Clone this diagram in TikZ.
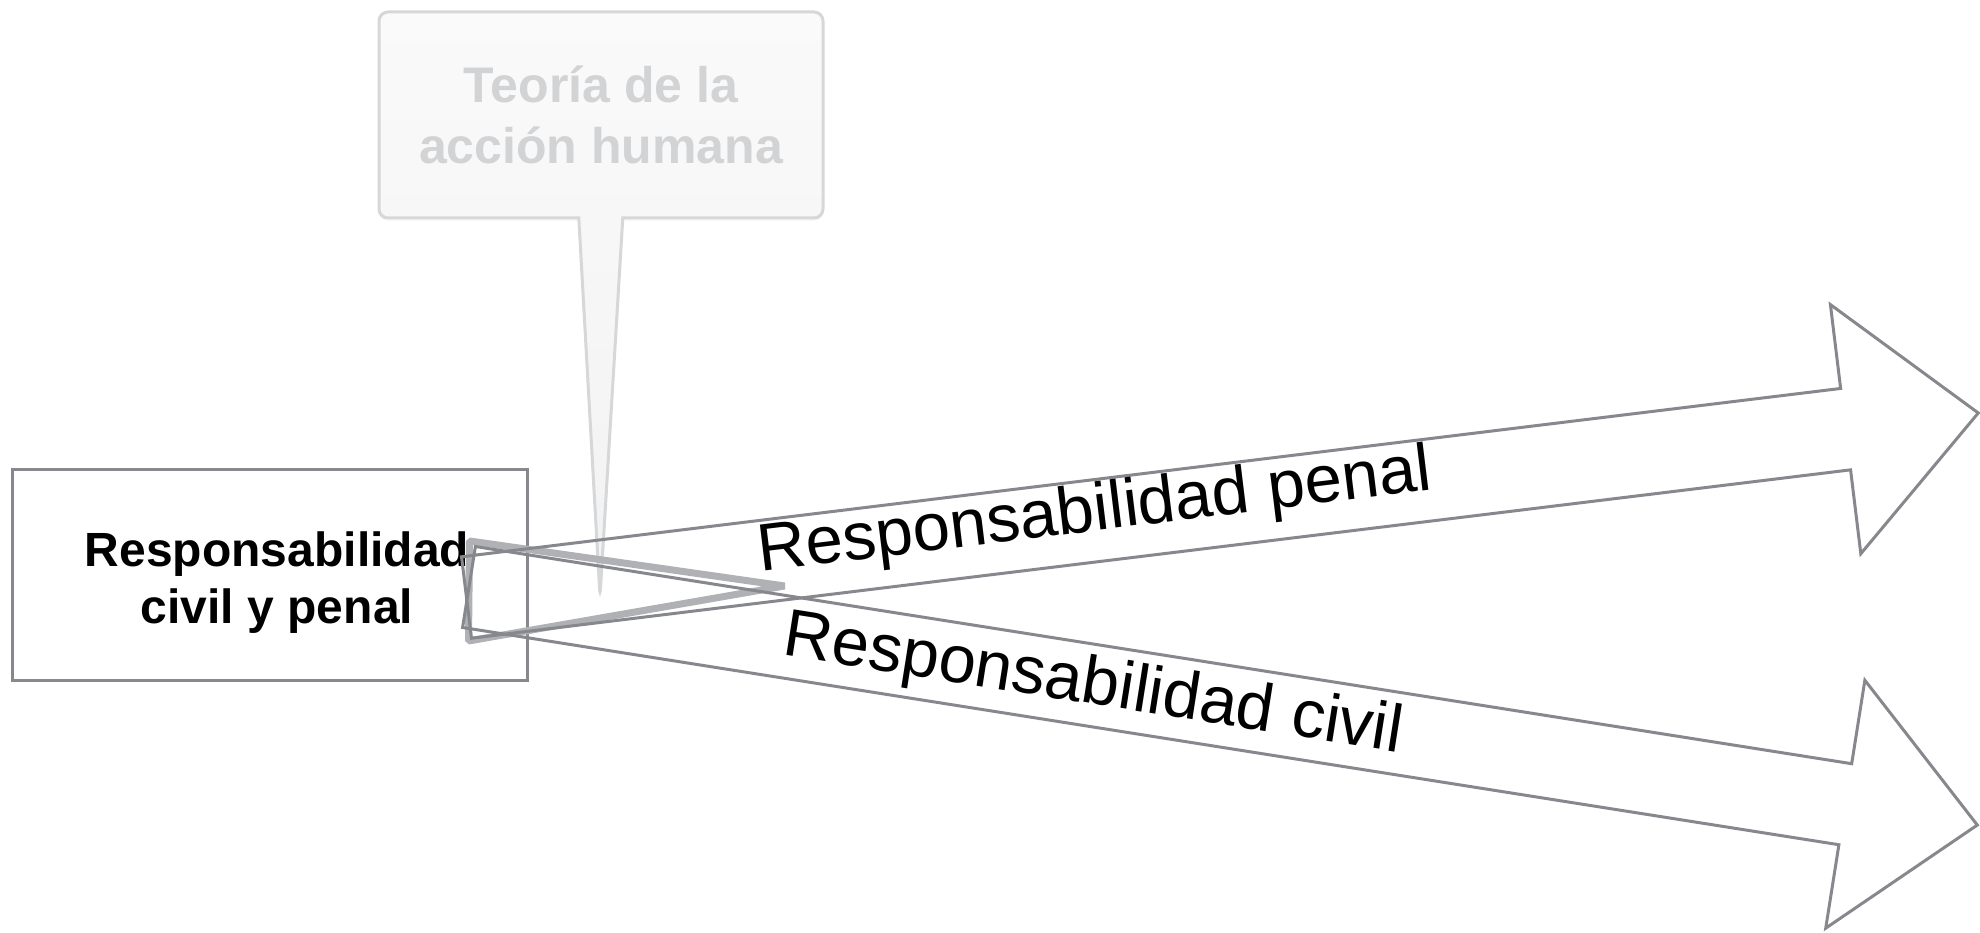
\documentclass[tikz,border=0pt]{standalone}
\usepackage{fontspec}
\setmainfont{Liberation Sans}
\usetikzlibrary{shapes.arrows,shapes.callouts,shadows,calc}

\definecolor{edgegray}{RGB}{135,136,141}
\definecolor{ghostgray}{RGB}{176,177,181}
\definecolor{calloutline}{RGB}{214,215,217}
\definecolor{callouttext}{RGB}{210,211,213}

\begin{document}
\begin{tikzpicture}[
    x=1pt, y=1pt,
    box/.style={draw=edgegray,line width=3,fill=white,minimum width=515,minimum height=211,inner sep=0},
    boxtext/.style={font=\bfseries\fontsize{48}{57}\selectfont,align=center,inner sep=0},
    bigarrow/.style={single arrow,draw=edgegray,line width=3,inner xsep=0,inner ysep=39.5,outer sep=0,single arrow head extend=84.5,single arrow tip angle=86.4,anchor=tail},
    arrowlabel/.style={font=\fontsize{67}{80}\selectfont,inner sep=0},
    ghost/.style={draw=ghostgray,line width=7,line join=bevel},
    teoria/.style={rectangle callout,rounded corners=9,draw=calloutline,line width=3,top color=white!98!black,bottom color=white!95!black,minimum width=444,minimum height=206,callout pointer width=44,text=callouttext,font=\bfseries\fontsize{50}{61.5}\selectfont,align=center,drop shadow={shadow xshift=0,shadow yshift=-3,opacity=0.06}},
]
    \useasboundingbox (0,0) rectangle (1980,933);

    \node [box] (civpen) at (269.5,357.5) {};
    \node [boxtext] (civpentext) at ([xshift=7.5,yshift=-7.5]civpen.center) {Responsabilidad\\civil y penal};

    \coordinate (teoriatip) at (600,336);
    \node [teoria,callout absolute pointer={(teoriatip)}] (teoria) at (601,818) {Teoría de la\\acción humana};

    \draw [ghost] ([xshift=-59,yshift=34.5]civpen.east) -- ++(315,-45) -- ++(-316,-55) -- cycle;

    \path (civpen.east) ++(-62,-22) coordinate (penaltail);
    \path (civpen.east) ++(-59.5,-11.5) coordinate (civiltail);
    \node [bigarrow,minimum height=1523,rotate=6.96] (penal) at (penaltail) {};
    \node [bigarrow,minimum height=1527,rotate=-8.97] (civil) at (civiltail) {};

    \node [arrowlabel,rotate=6.96,yshift=7.5] (penallabel) at ($(penal.tail)!0.416!(penal.tip)$) {Responsabilidad penal};
    \node [arrowlabel,rotate=-8.97,yshift=-1] (civillabel) at ($(civil.tail)!0.414!(civil.tip)$) {Responsabilidad civil};
\end{tikzpicture}
\end{document}
